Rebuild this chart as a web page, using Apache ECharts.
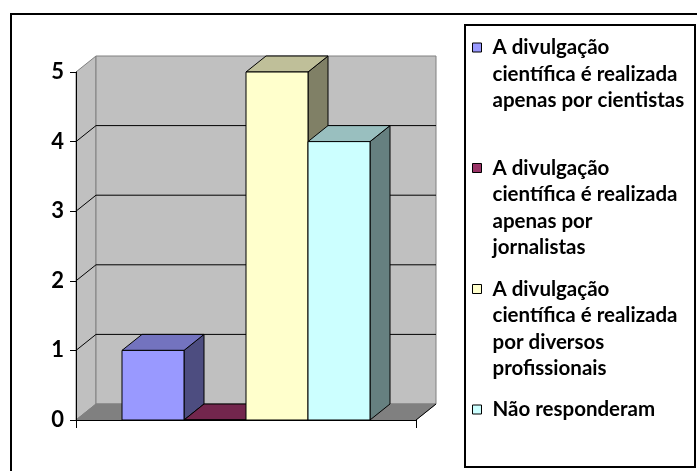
<!DOCTYPE html>
<html><head><meta charset="utf-8">
<script src="https://cdn.jsdelivr.net/npm/echarts@6.0.0/dist/echarts.min.js"></script>
<style>html,body{margin:0;padding:0;background:#fff}#c{width:697px;height:471px}</style>
</head><body><div id="c"></div>
<script>
// ---- data ----
const categories = [''];
const seriesNames = [
  'A divulgação científica é realizada apenas por cientistas',
  'A divulgação científica é realizada apenas por jornalistas',
  'A divulgação científica é realizada por diversos profissionais',
  'Não responderam'
];
const legendLines = [
  ['A divulgação', 'científica é realizada', 'apenas por cientistas'],
  ['A divulgação', 'científica é realizada', 'apenas por', 'jornalistas'],
  ['A divulgação', 'científica é realizada', 'por diversos', 'profissionais'],
  ['Não responderam']
];
const seriesValues = [1, 0, 5, 4];
const yTicks = [0, 1, 2, 3, 4, 5];
const colors = ['#9999FF', '#993366', '#FFFFCC', '#CCFFFF'];

// ---- styling constants ----
const DX = 20, DY = -16;
const BAR_FRAC = 62 / 340;
const LINE_H = 26.5;
const legendFirstLineY = [48, 168.5, 289.5, 410];
const FONT = 'Lato';

function shade(hex, f) {
  const n = parseInt(hex.slice(1), 16);
  const r = Math.round(((n >> 16) & 255) * f), g = Math.round(((n >> 8) & 255) * f), b = Math.round((n & 255) * f);
  return 'rgb(' + r + ',' + g + ',' + b + ')';
}

function bgRender(params, api) {
  const cs = params.coordSys;
  const xL = cs.x, xR = cs.x + cs.width;
  const yMin = api.coord([0, yTicks[0]])[1];
  const yMax = api.coord([0, yTicks[yTicks.length - 1]])[1];
  const gray = '#808080';
  const children = [
    {type: 'polygon', shape: {points: [[xL, yMin], [xL, yMax], [xL + DX, yMax + DY], [xL + DX, yMin + DY]]},
      style: {fill: '#c0c0c0', stroke: gray, lineWidth: 1}},
    {type: 'rect', shape: {x: xL + DX, y: yMax + DY, width: xR - xL, height: yMin - yMax},
      style: {fill: '#c0c0c0', stroke: gray, lineWidth: 1}},
    {type: 'polygon', shape: {points: [[xL, yMin], [xL + DX, yMin + DY], [xR + DX, yMin + DY], [xR, yMin]]},
      style: {fill: '#808080', stroke: gray, lineWidth: 1}},
    {type: 'line', shape: {x1: xR, y1: yMin, x2: xR + DX, y2: yMin + DY}, style: {stroke: '#000', lineWidth: 1}}
  ];
  yTicks.slice(1, -1).forEach(v => {
    const y = api.coord([0, v])[1];
    children.push({type: 'polyline', shape: {points: [[xL, y], [xL + DX, y + DY], [xR + DX, y + DY]]},
      style: {fill: null, stroke: '#000', lineWidth: 1}});
  });
  return {type: 'group', children: children};
}

function barRender(i) {
  return function (params, api) {
    const base = api.coord([api.value(0), 0]);
    const top = api.coord([api.value(0), api.value(1)]);
    const band = api.size([1, 0])[0];
    const bw = band * BAR_FRAC;
    const x0 = base[0] + (i - 2) * bw, x1 = x0 + bw;
    const yB = base[1], yT = top[1];
    const c = colors[i];
    return {type: 'group', children: [
      {type: 'polygon', shape: {points: [[x1, yT], [x1 + DX, yT + DY], [x1 + DX, yB + DY], [x1, yB]]},
        style: {fill: shade(c, 0.5), stroke: '#000', lineWidth: 1}},
      {type: 'polygon', shape: {points: [[x0, yT], [x0 + DX, yT + DY], [x1 + DX, yT + DY], [x1, yT]]},
        style: {fill: shade(c, 0.75), stroke: '#000', lineWidth: 1}},
      {type: 'rect', shape: {x: x0, y: yT, width: bw, height: yB - yT},
        style: {fill: c, stroke: '#000', lineWidth: 1}}
    ]};
  };
}

const series = [{
  type: 'custom', name: '__bg', silent: true, z: 1,
  data: [[0, 0]], renderItem: bgRender
}];
seriesNames.forEach((name, i) => {
  series.push({
    type: 'custom', name: name, z: 2 + i,
    itemStyle: {color: colors[i], borderColor: '#000', borderWidth: 1},
    data: [[0, seriesValues[i]]],
    renderItem: barRender(i)
  });
});

const legends = seriesNames.map((name, i) => {
  const n = legendLines[i].length;
  const H = LINE_H * (2 * n - 1);
  return {
    data: [name],
    orient: 'vertical',
    left: 472,
    top: legendFirstLineY[i] - H / 2 - 0.5,
    padding: 0,
    itemWidth: 9,
    itemHeight: 9,
    icon: 'rect',
    itemStyle: {borderColor: '#000', borderWidth: 1},
    selectedMode: false,
    formatter: () => '\n'.repeat(n - 1) + legendLines[i].join('\n'),
    textStyle: {fontFamily: FONT, fontWeight: 'bold', fontSize: 20.5, lineHeight: LINE_H, color: '#000',
      padding: [0, 0, 0, 6]}
  };
});

const chart = echarts.init(document.getElementById('c'), null, {renderer: 'canvas'});
chart.setOption({
  animation: false,
  backgroundColor: '#fff',
  grid: {left: 76, top: 72, width: 340, height: 348, containLabel: false},
  xAxis: {
    type: 'category', data: categories, z: 10,
    axisLine: {show: true, lineStyle: {color: '#000', width: 1}},
    axisTick: {show: true, length: 8, lineStyle: {color: '#000'}},
    axisLabel: {show: false},
    splitLine: {show: false}
  },
  yAxis: {
    type: 'value', min: yTicks[0], max: yTicks[yTicks.length - 1], interval: 1, z: 10,
    axisLine: {show: true, lineStyle: {color: '#000', width: 1}},
    axisTick: {show: true, length: 6, lineStyle: {color: '#000'}},
    axisLabel: {fontFamily: FONT, fontWeight: 'bold', fontSize: 22, color: '#000', margin: 12},
    splitLine: {show: false}
  },
  legend: legends,
  graphic: [
    {type: 'rect', shape: {x: 11, y: 14, width: 700, height: 500}, style: {fill: null, stroke: '#000', lineWidth: 2}, z: 100},
    {type: 'rect', shape: {x: 465, y: 25, width: 230, height: 442}, style: {fill: null, stroke: '#000', lineWidth: 2}, z: 100}
  ],
  series: series
});
</script>
</body></html>
